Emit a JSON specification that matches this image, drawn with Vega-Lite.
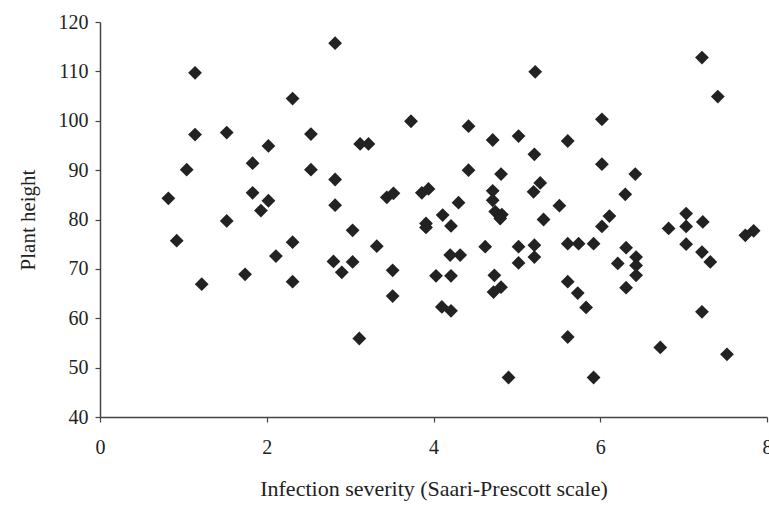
{
  "$schema": "https://vega.github.io/schema/vega-lite/v6.json",
  "autosize": "none",
  "width": 667,
  "height": 395,
  "padding": {"left": 100, "top": 22, "right": 2, "bottom": 89},
  "background": "white",
  "config": {
    "view": {"stroke": null},
    "axis": {"labelFont": "Liberation Serif", "titleFont": "Liberation Serif", "labelColor": "#222", "titleColor": "#222", "grid": false, "domainColor": "#444", "tickColor": "#444", "domainWidth": 1.5, "tickWidth": 1.2, "titleFontWeight": "normal"}
  },
  "data": {"values": [
    {"severity": 0.82, "height": 84.3}, {"severity": 0.92, "height": 75.7}, {"severity": 1.04, "height": 90.1},
    {"severity": 1.14, "height": 109.7}, {"severity": 1.14, "height": 97.2}, {"severity": 1.22, "height": 66.9},
    {"severity": 1.52, "height": 97.6}, {"severity": 1.52, "height": 79.7}, {"severity": 1.74, "height": 68.9},
    {"severity": 1.83, "height": 91.4}, {"severity": 1.83, "height": 85.4}, {"severity": 1.93, "height": 81.8},
    {"severity": 2.02, "height": 94.9}, {"severity": 2.02, "height": 83.8}, {"severity": 2.11, "height": 72.6},
    {"severity": 2.31, "height": 104.5}, {"severity": 2.31, "height": 75.4}, {"severity": 2.31, "height": 67.4},
    {"severity": 2.53, "height": 97.3}, {"severity": 2.53, "height": 90.1}, {"severity": 2.82, "height": 115.7},
    {"severity": 2.82, "height": 88.1}, {"severity": 2.82, "height": 82.9}, {"severity": 2.8, "height": 71.5},
    {"severity": 2.9, "height": 69.3}, {"severity": 3.03, "height": 71.4}, {"severity": 3.03, "height": 77.8},
    {"severity": 3.12, "height": 95.3}, {"severity": 3.22, "height": 95.3}, {"severity": 3.11, "height": 55.9},
    {"severity": 3.32, "height": 74.6}, {"severity": 3.44, "height": 84.5}, {"severity": 3.52, "height": 85.3},
    {"severity": 3.51, "height": 69.7}, {"severity": 3.51, "height": 64.5}, {"severity": 3.73, "height": 99.9},
    {"severity": 3.86, "height": 85.4}, {"severity": 3.94, "height": 86.2}, {"severity": 3.91, "height": 79.2},
    {"severity": 3.91, "height": 78.4}, {"severity": 4.03, "height": 68.6}, {"severity": 4.11, "height": 80.9},
    {"severity": 4.1, "height": 62.3}, {"severity": 4.21, "height": 78.7}, {"severity": 4.2, "height": 72.8},
    {"severity": 4.32, "height": 72.8}, {"severity": 4.21, "height": 68.6}, {"severity": 4.21, "height": 61.5},
    {"severity": 4.3, "height": 83.4}, {"severity": 4.42, "height": 98.9}, {"severity": 4.42, "height": 90.0},
    {"severity": 4.62, "height": 74.5}, {"severity": 4.71, "height": 96.1}, {"severity": 4.71, "height": 85.8},
    {"severity": 4.71, "height": 83.9}, {"severity": 4.74, "height": 81.6}, {"severity": 4.82, "height": 81.0},
    {"severity": 4.8, "height": 80.2}, {"severity": 4.81, "height": 89.2}, {"severity": 4.73, "height": 68.7},
    {"severity": 4.72, "height": 65.3}, {"severity": 4.81, "height": 66.3}, {"severity": 4.9, "height": 48.0},
    {"severity": 5.02, "height": 96.9}, {"severity": 5.02, "height": 74.5}, {"severity": 5.02, "height": 71.2},
    {"severity": 5.22, "height": 109.9}, {"severity": 5.21, "height": 93.2}, {"severity": 5.2, "height": 85.6},
    {"severity": 5.28, "height": 87.4}, {"severity": 5.32, "height": 80.0}, {"severity": 5.21, "height": 74.8},
    {"severity": 5.21, "height": 72.4}, {"severity": 5.51, "height": 82.8}, {"severity": 5.61, "height": 95.9},
    {"severity": 5.61, "height": 75.1}, {"severity": 5.74, "height": 75.1}, {"severity": 5.92, "height": 75.1},
    {"severity": 5.61, "height": 67.4}, {"severity": 5.73, "height": 65.1}, {"severity": 5.83, "height": 62.2},
    {"severity": 5.61, "height": 56.2}, {"severity": 5.92, "height": 48.0}, {"severity": 6.02, "height": 100.3},
    {"severity": 6.02, "height": 91.2}, {"severity": 6.11, "height": 80.7}, {"severity": 6.02, "height": 78.6},
    {"severity": 6.21, "height": 71.1}, {"severity": 6.31, "height": 74.3}, {"severity": 6.31, "height": 66.2},
    {"severity": 6.3, "height": 85.1}, {"severity": 6.42, "height": 89.2}, {"severity": 6.43, "height": 72.4},
    {"severity": 6.43, "height": 70.7}, {"severity": 6.43, "height": 68.7}, {"severity": 6.72, "height": 54.1},
    {"severity": 6.82, "height": 78.2}, {"severity": 7.03, "height": 81.2}, {"severity": 7.03, "height": 78.6},
    {"severity": 7.03, "height": 75.0}, {"severity": 7.22, "height": 112.8}, {"severity": 7.41, "height": 104.9},
    {"severity": 7.23, "height": 79.5}, {"severity": 7.22, "height": 73.4}, {"severity": 7.32, "height": 71.4},
    {"severity": 7.22, "height": 61.3}, {"severity": 7.52, "height": 52.7}, {"severity": 7.74, "height": 76.8},
    {"severity": 7.84, "height": 77.7}
  ]},
  "mark": {"type": "point", "shape": "diamond", "filled": true, "size": 190, "color": "#222", "opacity": 1},
  "encoding": {
    "x": {"field": "severity", "type": "quantitative", "scale": {"domain": [0, 8], "nice": false, "zero": false},
      "axis": {"title": "Infection severity (Saari-Prescott scale)", "values": [0, 2, 4, 6, 8], "format": "d", "labelFontSize": 20, "titleFontSize": 22, "tickSize": 5, "labelPadding": 15, "titlePadding": 21, "labelFlush": false}},
    "y": {"field": "height", "type": "quantitative", "scale": {"domain": [40, 120], "nice": false, "zero": false},
      "axis": {"title": "Plant height", "values": [40, 50, 60, 70, 80, 90, 100, 110, 120], "labelFontSize": 20, "titleFontSize": 21, "tickSize": 5, "labelPadding": 7, "titlePadding": 20}}
  }
}
